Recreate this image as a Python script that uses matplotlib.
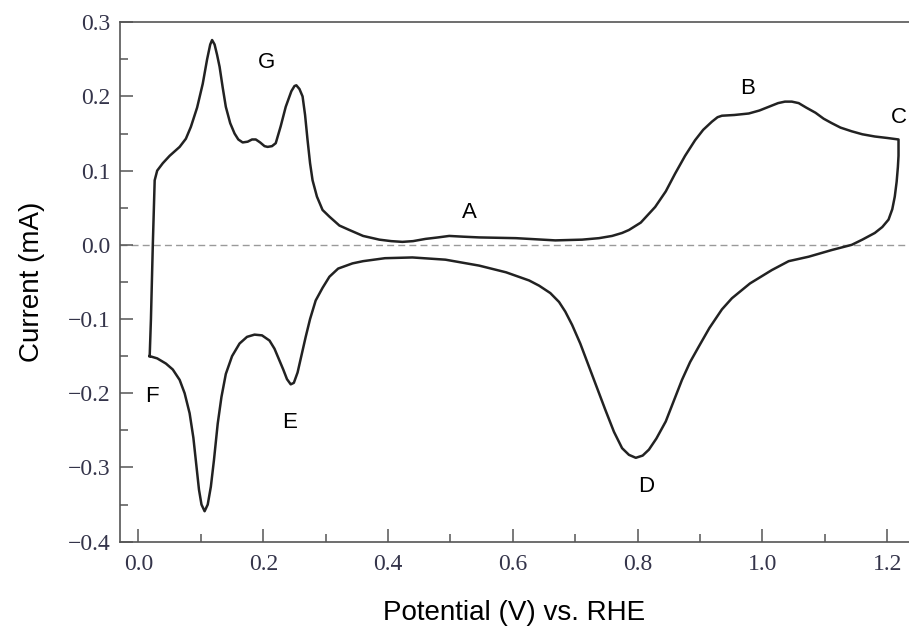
import matplotlib
matplotlib.use("Agg")
import matplotlib.pyplot as plt
from matplotlib.ticker import MultipleLocator

# Anodic (forward) scan, 0.02 V -> 1.22 V
fwd_v = [0.018, 0.020, 0.022, 0.023, 0.025, 0.026, 0.030, 0.039, 0.050, 0.066,
         0.076, 0.084, 0.094, 0.103, 0.110, 0.115, 0.118, 0.122, 0.126, 0.130,
         0.135, 0.140, 0.147, 0.154, 0.160, 0.167, 0.175, 0.182, 0.188, 0.195,
         0.202, 0.207, 0.214, 0.220, 0.228, 0.236, 0.245, 0.250, 0.253, 0.258,
         0.263, 0.267, 0.271, 0.275, 0.279, 0.286, 0.295, 0.306, 0.322, 0.338,
         0.360, 0.386, 0.405, 0.423, 0.440, 0.460, 0.480, 0.498, 0.520, 0.546,
         0.605, 0.668, 0.711, 0.738, 0.759, 0.775, 0.786, 0.805, 0.828, 0.845,
         0.860, 0.876, 0.892, 0.905, 0.919, 0.928, 0.935, 0.955, 0.978, 0.995,
         1.010, 1.025, 1.036, 1.047, 1.058, 1.070, 1.085, 1.098, 1.111, 1.125,
         1.143, 1.160, 1.180, 1.200, 1.218]
fwd_i = [-0.150, -0.100, -0.030, 0.000, 0.060, 0.087, 0.100, 0.110, 0.120, 0.132,
         0.143, 0.159, 0.185, 0.217, 0.250, 0.270, 0.276, 0.270, 0.256, 0.240,
         0.212, 0.186, 0.164, 0.150, 0.142, 0.138, 0.139, 0.142, 0.142, 0.138,
         0.133, 0.132, 0.133, 0.137, 0.160, 0.186, 0.207, 0.214, 0.215, 0.210,
         0.200, 0.175, 0.141, 0.110, 0.087, 0.065, 0.047, 0.038, 0.026, 0.020,
         0.012, 0.007, 0.005, 0.004, 0.005, 0.008, 0.010, 0.012, 0.011, 0.010,
         0.009, 0.006, 0.007, 0.009, 0.012, 0.016, 0.020, 0.030, 0.051, 0.072,
         0.096, 0.120, 0.141, 0.155, 0.166, 0.172, 0.174, 0.175, 0.177, 0.181,
         0.186, 0.191, 0.193, 0.193, 0.191, 0.185, 0.178, 0.170, 0.164, 0.158,
         0.153, 0.149, 0.146, 0.144, 0.142]

# Cathodic (reverse) scan, 1.22 V -> 0.02 V
rev_v = [1.218, 1.218, 1.217, 1.215, 1.212, 1.208, 1.202, 1.192, 1.180, 1.160,
         1.143, 1.111, 1.074, 1.042, 1.015, 0.980, 0.951, 0.935, 0.915, 0.898,
         0.884, 0.871, 0.858, 0.845, 0.830, 0.818, 0.808, 0.797, 0.786, 0.775,
         0.762, 0.748, 0.735, 0.722, 0.708, 0.695, 0.684, 0.674, 0.660, 0.642,
         0.626, 0.589, 0.546, 0.492, 0.439, 0.395, 0.360, 0.343, 0.320, 0.306,
         0.295, 0.284, 0.275, 0.268, 0.261, 0.255, 0.249, 0.244, 0.238, 0.232,
         0.226, 0.218, 0.210, 0.198, 0.186, 0.174, 0.162, 0.150, 0.140, 0.133,
         0.127, 0.121, 0.116, 0.111, 0.106, 0.101, 0.097, 0.093, 0.088, 0.082,
         0.074, 0.066, 0.055, 0.044, 0.030, 0.018]
rev_i = [0.142, 0.120, 0.105, 0.085, 0.065, 0.048, 0.034, 0.024, 0.016, 0.007,
         0.000, -0.007, -0.016, -0.022, -0.034, -0.052, -0.072, -0.087, -0.112, -0.137,
         -0.158, -0.182, -0.210, -0.238, -0.261, -0.276, -0.284, -0.287, -0.283, -0.274,
         -0.252, -0.222, -0.193, -0.164, -0.133, -0.108, -0.090, -0.077, -0.065, -0.055,
         -0.048, -0.037, -0.028, -0.020, -0.017, -0.018, -0.022, -0.025, -0.032, -0.043,
         -0.058, -0.075, -0.100, -0.124, -0.150, -0.172, -0.186, -0.188, -0.181, -0.168,
         -0.156, -0.140, -0.129, -0.122, -0.121, -0.124, -0.133, -0.150, -0.174, -0.205,
         -0.241, -0.290, -0.326, -0.350, -0.359, -0.350, -0.330, -0.299, -0.260, -0.227,
         -0.200, -0.182, -0.168, -0.160, -0.153, -0.150]

# Peak labels
lab_text = ["A", "B", "C", "D", "E", "F", "G"]
lab_v = [0.531, 0.976, 1.218, 0.814, 0.242, 0.021, 0.205]
lab_i = [0.043, 0.211, 0.172, -0.326, -0.240, -0.205, 0.246]

fig = plt.figure(figsize=(9.09, 6.35), dpi=100)
ax = fig.add_axes([0.132, 0.147, 0.868, 0.818])

ax.axhline(0, color="#9a9a9a", lw=1.0, ls=(0, (5, 3)), zorder=1)
ax.plot(fwd_v + rev_v, fwd_i + rev_i, color="#222222", lw=1.8, zorder=2,
        solid_joinstyle="round")

for t, v, i in zip(lab_text, lab_v, lab_i):
    ax.text(v, i, t, ha="center", va="center", fontsize=16,
            family="Liberation Sans", color="black")

ax.set_xlim(-0.0296, 1.2348)
ax.set_ylim(-0.4, 0.3)
ax.xaxis.set_major_locator(MultipleLocator(0.2))
ax.xaxis.set_minor_locator(MultipleLocator(0.1))
ax.yaxis.set_major_locator(MultipleLocator(0.1))
ax.yaxis.set_minor_locator(MultipleLocator(0.05))
ax.xaxis.set_major_formatter(matplotlib.ticker.FormatStrFormatter("%.1f"))
ax.yaxis.set_major_formatter(matplotlib.ticker.FuncFormatter(
    lambda v, p: ("\u2212%.1f" % abs(v)) if v < -1e-9 else "%.1f" % abs(v)))

ax.tick_params(which="major", direction="in", length=9.5, width=1.1,
               color="#555555", labelsize=17, labelcolor="#34344a")
ax.tick_params(axis="x", which="major", pad=9)
ax.tick_params(axis="y", which="major", pad=7)
ax.tick_params(which="minor", direction="in", length=6, width=1.1, color="#555555")
for lbl in ax.get_xticklabels() + ax.get_yticklabels():
    lbl.set_family("Liberation Serif")

ax.spines["right"].set_visible(False)
for s in ["left", "bottom", "top"]:
    ax.spines[s].set_color("#555555")
    ax.spines[s].set_linewidth(1.2)

ax.set_xlabel("Potential (V) vs. RHE", fontsize=20, family="Liberation Sans", labelpad=18)
ax.set_ylabel("Current (mA)", fontsize=20, family="Liberation Sans", labelpad=16)

fig.savefig("out.png", dpi=100)
